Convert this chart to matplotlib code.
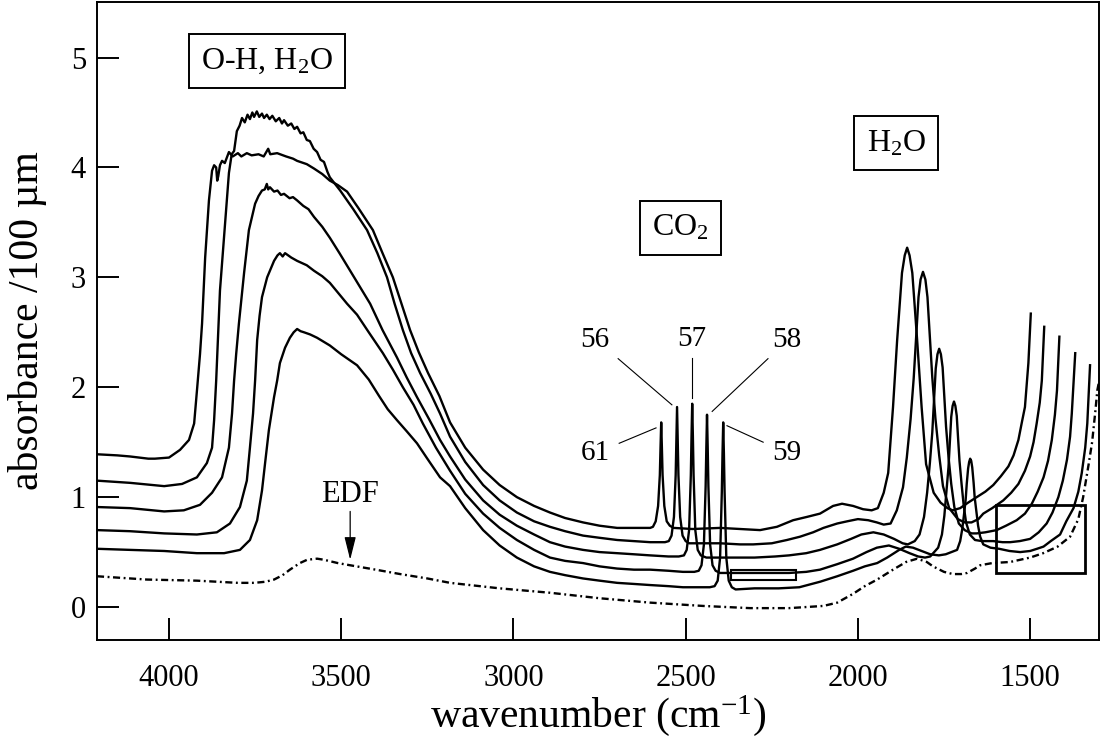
import matplotlib
matplotlib.use("Agg")
import matplotlib.pyplot as plt
from matplotlib.patches import Rectangle

plt.rcParams["font.family"] = ["Liberation Serif", "DejaVu Serif"]
plt.rcParams["mathtext.fontset"] = "custom"
plt.rcParams["mathtext.rm"] = "Liberation Serif"
plt.rcParams["mathtext.it"] = "Liberation Serif:italic"
plt.rcParams["mathtext.default"] = "rm"

# IR spectra of the glass samples, drawn offset for clarity
wn_61 = [4209, 4150, 4113, 4060, 4041, 4000, 3968, 3942, 3927, 3918, 3910, 3904, 3895, 3884, 3875,
         3869, 3863, 3860, 3857, 3852, 3846, 3838, 3826, 3815, 3800, 3790, 3774, 3760, 3740, 3725,
         3712, 3706, 3686, 3660, 3640, 3628, 3600, 3579, 3555, 3533, 3510, 3483, 3450, 3408, 3380,
         3350, 3325, 3300, 3275, 3248, 3215, 3184, 3140, 3088, 3040, 2990, 2940, 2894, 2850, 2798,
         2750, 2699, 2650, 2603, 2595, 2587, 2580, 2575, 2573, 2571, 2569, 2567, 2562, 2555, 2546,
         2535, 2480, 2400, 2342, 2284, 2235, 2188, 2148, 2110, 2072, 2046, 2014, 1985, 1960, 1942,
         1925, 1912, 1898, 1886, 1872, 1864, 1857, 1850, 1842, 1828, 1815, 1802, 1780, 1760, 1740,
         1725, 1703, 1680, 1655, 1630, 1607, 1585, 1563, 1548, 1534, 1524, 1515, 1505, 1498]
abs_61 = [1.39, 1.38, 1.37, 1.35, 1.35, 1.36, 1.43, 1.52, 1.67, 2.00, 2.30, 2.58, 3.18, 3.70, 3.97,
          4.02, 4.00, 3.88, 3.92, 4.02, 4.06, 4.04, 4.14, 4.10, 4.13, 4.10, 4.13, 4.11, 4.12, 4.10,
          4.17, 4.12, 4.13, 4.10, 4.08, 4.06, 4.03, 3.99, 3.94, 3.88, 3.84, 3.78, 3.63, 3.43, 3.22,
          3.00, 2.76, 2.52, 2.32, 2.13, 1.92, 1.68, 1.45, 1.25, 1.11, 1.00, 0.92, 0.86, 0.81, 0.77,
          0.74, 0.72, 0.72, 0.72, 0.73, 0.78, 0.92, 1.20, 1.45, 1.68, 1.45, 1.20, 0.92, 0.78, 0.74,
          0.72, 0.71, 0.72, 0.71, 0.70, 0.73, 0.79, 0.82, 0.85, 0.92, 0.94, 0.92, 0.89, 0.88, 0.90,
          1.04, 1.22, 1.82, 2.43, 3.04, 3.20, 3.27, 3.20, 3.04, 2.43, 1.82, 1.30, 1.04, 0.95, 0.90,
          0.88, 0.90, 0.95, 1.00, 1.05, 1.11, 1.19, 1.28, 1.38, 1.52, 1.68, 1.82, 2.22, 2.67]

wn_56 = [4209, 4113, 4014, 3962, 3919, 3890, 3875, 3869, 3863, 3852, 3837, 3826, 3818, 3811, 3808,
         3803, 3795, 3788, 3780, 3772, 3765, 3758, 3753, 3745, 3738, 3730, 3724, 3716, 3708, 3700,
         3690, 3680, 3672, 3666, 3655, 3645, 3636, 3628, 3618, 3610, 3600, 3591, 3580, 3570, 3560,
         3550, 3540, 3533, 3503, 3465, 3425, 3395, 3367, 3345, 3321, 3297, 3271, 3240, 3213, 3184,
         3140, 3088, 3040, 2990, 2940, 2894, 2850, 2798, 2750, 2699, 2650, 2603, 2560, 2549, 2541,
         2534, 2529, 2527, 2525, 2523, 2521, 2516, 2509, 2500, 2490, 2440, 2400, 2342, 2304, 2250,
         2206, 2168, 2130, 2100, 2060, 2031, 2000, 1970, 1945, 1925, 1905, 1887, 1869, 1858, 1847,
         1838, 1831, 1824, 1818, 1811, 1804, 1798, 1791, 1784, 1775, 1764, 1753, 1735, 1710, 1690,
         1670, 1650, 1636, 1610, 1578, 1555, 1534, 1515, 1500, 1490, 1481, 1472, 1466, 1459]
abs_56 = [1.15, 1.13, 1.10, 1.12, 1.18, 1.31, 1.45, 1.70, 2.06, 2.88, 3.49, 3.95, 4.12, 4.15, 4.22,
          4.33, 4.38, 4.45, 4.41, 4.48, 4.44, 4.50, 4.46, 4.51, 4.46, 4.49, 4.45, 4.48, 4.44, 4.47,
          4.42, 4.45, 4.40, 4.43, 4.38, 4.40, 4.35, 4.37, 4.31, 4.32, 4.25, 4.24, 4.17, 4.14, 4.07,
          4.05, 3.96, 3.91, 3.79, 3.62, 3.43, 3.22, 3.00, 2.76, 2.52, 2.31, 2.13, 1.94, 1.76, 1.55,
          1.32, 1.11, 0.97, 0.86, 0.78, 0.73, 0.69, 0.65, 0.63, 0.61, 0.60, 0.59, 0.59, 0.60, 0.65,
          0.82, 1.20, 1.50, 1.82, 1.50, 1.20, 0.82, 0.65, 0.60, 0.58, 0.58, 0.58, 0.57, 0.57, 0.58,
          0.61, 0.64, 0.68, 0.72, 0.76, 0.78, 0.80, 0.79, 0.77, 0.75, 0.76, 0.88, 1.09, 1.36, 1.71,
          2.08, 2.45, 2.82, 2.98, 3.05, 2.98, 2.82, 2.45, 2.09, 1.72, 1.38, 1.10, 0.90, 0.80, 0.77,
          0.77, 0.80, 0.85, 0.90, 0.97, 1.04, 1.12, 1.24, 1.37, 1.50, 1.67, 1.86, 2.06, 2.55]

wn_57 = [4209, 4113, 4014, 3957, 3910, 3875, 3846, 3826, 3817, 3811, 3805, 3797, 3782, 3768, 3750,
         3740, 3730, 3722, 3716, 3712, 3707, 3695, 3685, 3675, 3666, 3650, 3640, 3628, 3610, 3595,
         3579, 3555, 3533, 3505, 3474, 3445, 3416, 3380, 3338, 3310, 3280, 3245, 3213, 3184, 3140,
         3088, 3040, 2990, 2940, 2894, 2850, 2798, 2750, 2699, 2650, 2603, 2550, 2520, 2505, 2497,
         2490, 2485, 2483, 2481, 2479, 2477, 2472, 2465, 2456, 2440, 2380, 2300, 2240, 2200, 2150,
         2110, 2060, 2020, 1990, 1955, 1925, 1895, 1870, 1855, 1835, 1821, 1808, 1799, 1791, 1784,
         1779, 1774, 1769, 1764, 1759, 1754, 1749, 1744, 1737, 1729, 1720, 1707, 1690, 1670, 1655,
         1630, 1597, 1570, 1539, 1515, 1495, 1478, 1461, 1448, 1437, 1428, 1422, 1415]
abs_57 = [0.91, 0.90, 0.87, 0.88, 0.93, 1.04, 1.18, 1.45, 1.76, 2.06, 2.30, 2.58, 3.04, 3.43, 3.67,
          3.74, 3.79, 3.80, 3.85, 3.80, 3.82, 3.78, 3.79, 3.75, 3.76, 3.72, 3.73, 3.70, 3.65, 3.62,
          3.55, 3.46, 3.36, 3.22, 3.06, 2.91, 2.76, 2.52, 2.27, 2.09, 1.91, 1.71, 1.52, 1.37, 1.16,
          0.97, 0.84, 0.74, 0.66, 0.59, 0.55, 0.52, 0.50, 0.49, 0.48, 0.47, 0.46, 0.46, 0.47, 0.52,
          0.70, 1.20, 1.55, 1.85, 1.55, 1.20, 0.70, 0.52, 0.47, 0.45, 0.45, 0.45, 0.46, 0.47, 0.49,
          0.52, 0.57, 0.62, 0.66, 0.68, 0.66, 0.62, 0.58, 0.57, 0.60, 0.66, 0.82, 1.04, 1.31, 1.59,
          1.88, 2.17, 2.30, 2.35, 2.30, 2.18, 1.91, 1.64, 1.37, 1.12, 0.91, 0.76, 0.70, 0.67, 0.67,
          0.68, 0.70, 0.74, 0.79, 0.85, 0.94, 1.05, 1.18, 1.33, 1.52, 1.75, 1.97, 2.46]

wn_58 = [4209, 4113, 4014, 3919, 3861, 3823, 3794, 3774, 3765, 3756, 3750, 3744, 3737, 3730, 3715,
         3695, 3685, 3678, 3670, 3663, 3645, 3628, 3600, 3579, 3555, 3533, 3483, 3454, 3420, 3379,
         3350, 3321, 3290, 3263, 3225, 3184, 3140, 3088, 3040, 2990, 2940, 2894, 2850, 2798, 2750,
         2699, 2650, 2603, 2550, 2508, 2475, 2462, 2454, 2447, 2442, 2440, 2438, 2436, 2434, 2429,
         2422, 2413, 2400, 2300, 2200, 2150, 2110, 2060, 2014, 1975, 1945, 1910, 1880, 1850, 1825,
         1805, 1790, 1767, 1756, 1749, 1743, 1737, 1733, 1729, 1725, 1721, 1717, 1713, 1709, 1705,
         1699, 1693, 1686, 1675, 1660, 1640, 1607, 1580, 1558, 1530, 1500, 1475, 1452, 1435, 1418,
         1405, 1393, 1384, 1379, 1369]
abs_58 = [0.70, 0.69, 0.67, 0.66, 0.68, 0.76, 0.91, 1.15, 1.45, 1.76, 2.06, 2.43, 2.65, 2.82, 3.00,
          3.15, 3.20, 3.22, 3.19, 3.22, 3.18, 3.15, 3.11, 3.06, 3.01, 2.95, 2.76, 2.66, 2.50, 2.31,
          2.16, 2.00, 1.84, 1.67, 1.45, 1.24, 1.03, 0.85, 0.72, 0.61, 0.52, 0.45, 0.42, 0.40, 0.37,
          0.35, 0.34, 0.34, 0.33, 0.32, 0.32, 0.33, 0.38, 0.57, 1.10, 1.45, 1.75, 1.45, 1.10, 0.57,
          0.38, 0.33, 0.31, 0.31, 0.31, 0.32, 0.34, 0.39, 0.44, 0.50, 0.54, 0.56, 0.53, 0.49, 0.46,
          0.45, 0.46, 0.54, 0.66, 0.83, 1.05, 1.27, 1.50, 1.73, 1.83, 1.87, 1.83, 1.74, 1.53, 1.33,
          1.12, 0.93, 0.77, 0.66, 0.61, 0.60, 0.60, 0.59, 0.59, 0.60, 0.62, 0.68, 0.76, 0.86, 1.00,
          1.15, 1.34, 1.55, 1.76, 2.31]

wn_59 = [4209, 4113, 4014, 3919, 3840, 3794, 3765, 3744, 3730, 3721, 3710, 3695, 3686, 3678, 3663,
         3649, 3638, 3628, 3618, 3608, 3590, 3570, 3533, 3500, 3454, 3420, 3390, 3365, 3338, 3310,
         3280, 3250, 3213, 3184, 3140, 3088, 3040, 2990, 2940, 2894, 2850, 2798, 2750, 2699, 2650,
         2603, 2550, 2508, 2430, 2416, 2407, 2400, 2395, 2393, 2391, 2389, 2387, 2382, 2375, 2366,
         2355, 2300, 2230, 2170, 2110, 2060, 2014, 1980, 1944, 1915, 1880, 1861, 1840, 1815, 1790,
         1765, 1745, 1712, 1703, 1697, 1692, 1687, 1684, 1680, 1677, 1674, 1671, 1668, 1664, 1661,
         1656, 1651, 1645, 1636, 1615, 1590, 1560, 1529, 1500, 1480, 1461, 1440, 1413, 1395, 1374,
         1360, 1350, 1340, 1334, 1326]
abs_59 = [0.53, 0.52, 0.51, 0.49, 0.49, 0.52, 0.61, 0.79, 1.06, 1.31, 1.61, 1.91, 2.06, 2.22, 2.36,
          2.45, 2.50, 2.53, 2.51, 2.50, 2.48, 2.45, 2.38, 2.30, 2.20, 2.07, 1.92, 1.80, 1.70, 1.60,
          1.49, 1.35, 1.18, 1.10, 0.90, 0.70, 0.56, 0.45, 0.37, 0.32, 0.29, 0.26, 0.24, 0.22, 0.21,
          0.20, 0.19, 0.18, 0.18, 0.19, 0.24, 0.45, 1.05, 1.40, 1.68, 1.40, 1.05, 0.45, 0.24, 0.18,
          0.16, 0.17, 0.17, 0.18, 0.23, 0.28, 0.33, 0.37, 0.40, 0.45, 0.52, 0.55, 0.54, 0.51, 0.48,
          0.47, 0.48, 0.52, 0.60, 0.71, 0.84, 0.98, 1.12, 1.26, 1.32, 1.35, 1.33, 1.27, 1.13, 1.00,
          0.87, 0.74, 0.64, 0.57, 0.54, 0.53, 0.51, 0.50, 0.51, 0.53, 0.55, 0.60, 0.66, 0.78, 0.90,
          1.05, 1.22, 1.45, 1.67, 2.20]

# reference spectrum (EDF), dash-dot
wn_edf = [4209, 4064, 3919, 3800, 3753, 3720, 3695, 3670, 3649, 3620, 3599, 3570, 3550, 3510, 3474,
          3400, 3329, 3250, 3184, 3040, 2894, 2750, 2603, 2450, 2313, 2200, 2150, 2100, 2060, 2014,
          1980, 1944, 1898, 1860, 1828, 1800, 1782, 1750, 1724, 1700, 1683, 1660, 1645, 1610, 1558,
          1500, 1462, 1420, 1384, 1360, 1346, 1330, 1320, 1310, 1305, 1300]
abs_edf = [0.28, 0.25, 0.24, 0.22, 0.22, 0.23, 0.25, 0.29, 0.34, 0.40, 0.43, 0.44, 0.43, 0.40, 0.38,
           0.34, 0.30, 0.26, 0.22, 0.17, 0.13, 0.08, 0.04, 0.01, -0.01, -0.01, 0.00, 0.01, 0.04, 0.12,
           0.19, 0.25, 0.34, 0.41, 0.44, 0.41, 0.37, 0.32, 0.30, 0.30, 0.31, 0.35, 0.38, 0.40, 0.41,
           0.45, 0.49, 0.55, 0.64, 0.80, 1.00, 1.30, 1.50, 1.80, 1.97, 2.05]

samples = [(wn_61, abs_61), (wn_56, abs_56), (wn_57, abs_57), (wn_58, abs_58), (wn_59, abs_59)]

# CO2 peak labels: (text, label position, line start, line end)
co2_labels = [("56", (2763, 2.43), (2696, 2.26), (2540, 1.84)),
              ("57", (2481, 2.44), (2481, 2.27), (2481, 1.90)),
              ("58", (2206, 2.43), (2261, 2.26), (2423, 1.78)),
              ("61", (2763, 1.40), (2693, 1.49), (2586, 1.63)),
              ("59", (2206, 1.40), (2275, 1.50), (2380, 1.65))]

fig = plt.figure(figsize=(11.01, 7.42), dpi=100)
ax = fig.add_axes([97 / 1101, 1 - 640 / 742, 1002 / 1101, 638.5 / 742])

for wn, ab in samples:
    ax.plot(wn, ab, color="black", lw=1.7, solid_joinstyle="round")
ax.plot(wn_edf, abs_edf, color="black", lw=1.7, dashes=(3.0, 1.5, 0.8, 1.5))

for txt, pos, p0, p1 in co2_labels:
    ax.text(pos[0], pos[1], txt, fontsize=21, ha="center", va="center")
    ax.plot([p0[0], p1[0]], [p0[1], p1[1]], color="black", lw=0.8)

box = dict(boxstyle="square,pad=0.38", facecolor="white", edgecolor="black", lw=1.4)
ax.text(3715, 4.97, "O-H, H$_2$O", fontsize=23, ha="center", va="center", bbox=box)
ax.text(2516, 3.45, "CO$_2$", fontsize=23, ha="center", va="center", bbox=box)
ax.text(1889, 4.22, "H$_2$O", fontsize=23, ha="center", va="center", bbox=box)

ax.text(3474, 1.02, "EDF", fontsize=22, ha="center", va="center")
ax.annotate("", xy=(3474, 0.43), xytext=(3474, 0.87),
            arrowprops=dict(arrowstyle="-|>,head_length=1.4,head_width=0.35",
                            color="black", lw=0.9, shrinkA=0, shrinkB=0))

# zoomed regions
ax.add_patch(Rectangle((1599, 0.31), 1341 - 1599, 0.62, fill=False, ec="black", lw=2.0))
ax.add_patch(Rectangle((2368, 0.25), 2180 - 2368, 0.09, fill=False, ec="black", lw=1.5))

ax.set_xlim(4209, 1300)
ax.set_ylim(-0.30, 5.51)
ax.set_xticks([4000, 3500, 3000, 2500, 2000, 1500])
ax.set_yticks([0, 1, 2, 3, 4, 5])
ax.tick_params(direction="in", length=16, width=1.4, labelsize=22)
ax.tick_params(axis="x", pad=17)
ax.tick_params(axis="y", pad=8)
for sp in ax.spines.values():
    sp.set_linewidth(1.4)

ax.set_xlabel("wavenumber (cm$^{-1}$)", fontsize=30)
ax.set_ylabel("absorbance /100 µm", fontsize=30)
ax.xaxis.set_label_coords(0.5, -0.083)
ax.yaxis.set_label_coords(-0.05, 0.5)

fig.savefig("out.png", dpi=100)
